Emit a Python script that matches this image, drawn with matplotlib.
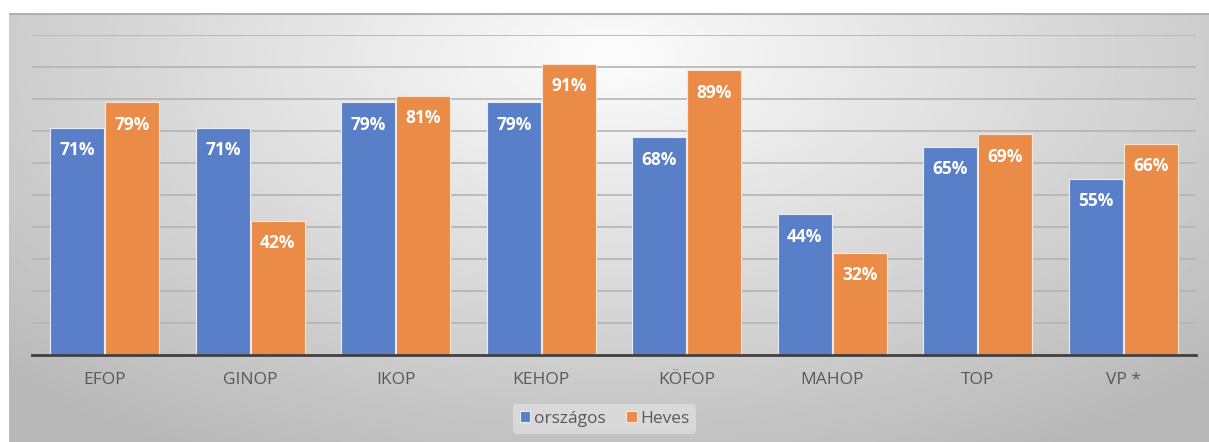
import numpy as np
import matplotlib
matplotlib.use("Agg")
import matplotlib.pyplot as plt
from matplotlib.ticker import MultipleLocator

categories = ["EFOP", "GINOP", "IKOP", "KEHOP", "KÖFOP", "MAHOP", "TOP", "VP *"]
orszagos = [71, 71, 79, 79, 68, 44, 65, 55]
heves = [79, 42, 81, 91, 89, 32, 69, 66]
series_names = ["országos", "Heves"]

plt.rcParams['font.family'] = ['Open Sans', 'DejaVu Sans']

W, H = 1209, 442
fig = plt.figure(figsize=(W / 100, H / 100), dpi=100)

# radial gray background of the chart area
bg = fig.add_axes([9 / W, 0, (W - 9) / W, (H - 13) / H], zorder=0)
yy, xx = np.mgrid[0:1:300j, 0:1:800j]
r = np.sqrt(((xx - 0.5) / 0.75) ** 2 + ((yy - 0.9) / 1.1) ** 2)
shade = np.clip(0.99 - 0.28 * r, 0.72, 0.99)
bg.imshow(shade, cmap="gray", vmin=0, vmax=1, origin="lower",
          extent=[0, 1, 0, 1], aspect="auto")
bg.set_xlim(0, 1)
bg.set_ylim(0, 1)
bg.axis("off")
bg.plot([0, 1], [0.997, 0.997], color="#b0b0b0", lw=1.5)

ax = fig.add_axes([32 / W, (H - 355) / H, 1164 / W, 320 / H], zorder=1)
ax.patch.set_alpha(0)

x = np.arange(len(categories))
bw = 0.372
blue = "#5a7fc9"
orange = "#ea8b48"
b1 = ax.bar(x - 0.003 - bw, orszagos, width=bw, align="edge", color=blue,
            edgecolor="#e8eef8", linewidth=0.8, zorder=3, label=series_names[0])
b2 = ax.bar(x + 0.004, heves, width=bw, align="edge", color=orange,
            edgecolor="#fbe5d6", linewidth=0.8, zorder=3, label=series_names[1])

for xi, v in zip(x, orszagos):
    ax.text(xi - 0.003 - bw / 2, v - 7, f"{v}%", ha="center", va="center",
            color="white", fontsize=12.5, fontweight="bold", zorder=4)
for xi, v in zip(x, heves):
    ax.text(xi + 0.004 + bw / 2, v - 7, f"{v}%", ha="center", va="center",
            color="white", fontsize=12.5, fontweight="bold", zorder=4)

ax.set_xlim(-0.5, len(categories) - 0.5)
ax.set_ylim(0, 100)
ax.yaxis.set_major_locator(MultipleLocator(10))
ax.grid(axis="y", color="#b4b4b4", linewidth=1.2, zorder=0)
ax.set_axisbelow(True)
ax.tick_params(axis="y", left=False, labelleft=False)
ax.tick_params(axis="x", length=0, pad=12, labelsize=12.5, labelcolor="#595959")
ax.set_xticks(x)
ax.set_xticklabels(categories)
for s in ["top", "right", "left"]:
    ax.spines[s].set_visible(False)
ax.spines["bottom"].set_color("#404040")
ax.spines["bottom"].set_linewidth(2)
ax.spines["bottom"].set_zorder(5)

handles = [b1, b2]
leg = fig.legend(handles, series_names, loc="center", bbox_to_anchor=(0.5, 23 / H),
                 ncol=2, frameon=True, fontsize=12.5, handlelength=0.6,
                 handleheight=0.6, handletextpad=0.2, columnspacing=1.2,
                 borderpad=0.4)
leg.get_frame().set_facecolor("#ececec")
leg.get_frame().set_edgecolor("none")
leg.get_frame().set_alpha(0.5)
for t in leg.get_texts():
    t.set_color("#595959")

fig.savefig("out.png", dpi=100)
